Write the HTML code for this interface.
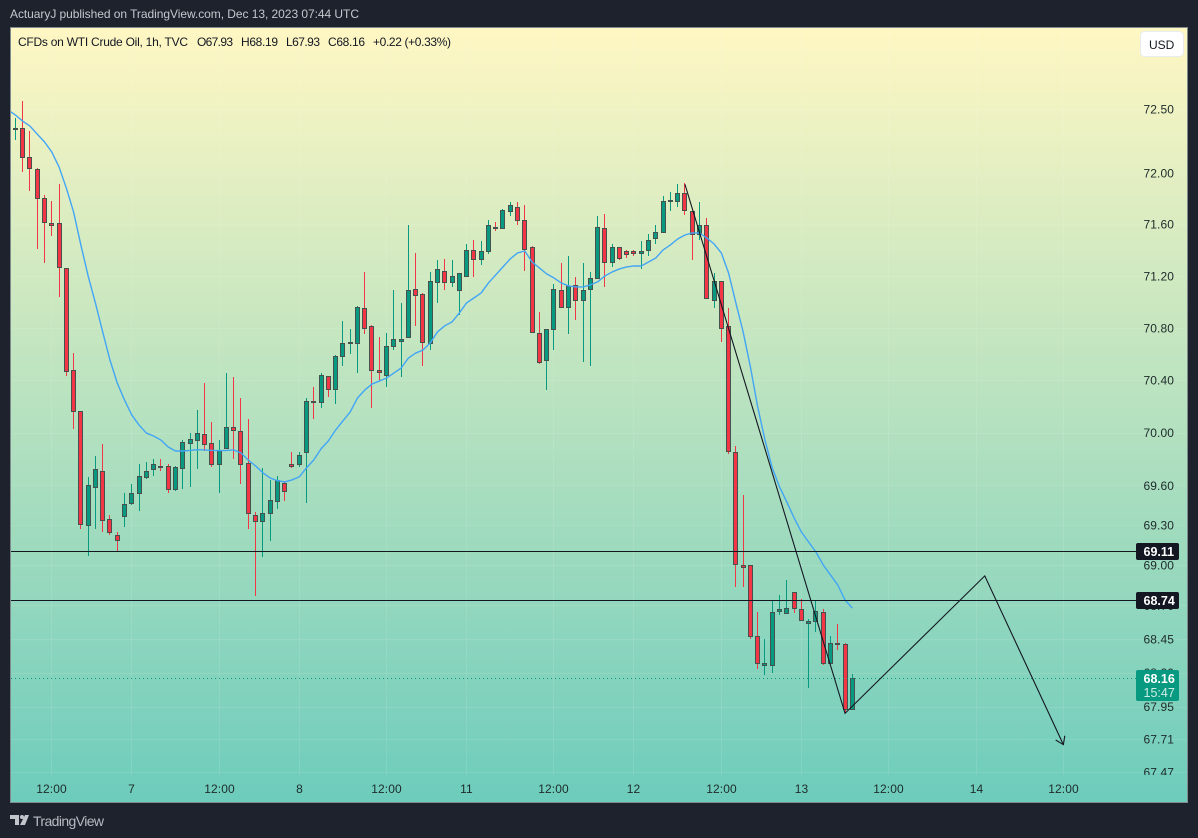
<!DOCTYPE html>
<html lang="en">
<head>
<meta charset="utf-8">
<title>CFDs on WTI Crude Oil chart</title>
<style>
html,body{margin:0;padding:0;background:#1e222d;width:1198px;height:838px;overflow:hidden}
svg{display:block}
text{font-family:"Liberation Sans",sans-serif}
</style>
</head>
<body>
<svg id="root" xmlns="http://www.w3.org/2000/svg" width="1198" height="838" viewBox="0 0 1198 838">
  <defs>
    <linearGradient id="bg" x1="0" y1="0" x2="0" y2="1">
      <stop offset="0" stop-color="#fff7c3"/>
      <stop offset="1" stop-color="#6dccbc"/>
    </linearGradient>
    <clipPath id="plotClip"><rect x="11" y="28" width="1176" height="747"/></clipPath>
  </defs>
  <rect x="0" y="0" width="1198" height="838" fill="#1e222d"/>
  <text x="10" y="18" font-size="12" fill="#c4c7cd" textLength="349" lengthAdjust="spacing">ActuaryJ published on TradingView.com, Dec 13, 2023 07:44 UTC</text>
  <rect x="10.5" y="27.5" width="1177" height="775" fill="url(#bg)" stroke="#7f8b8c" stroke-width="1"/>
  <g id="grid"></g>
  <g id="plot" clip-path="url(#plotClip)"></g>
  <g id="axes"></g>
  <g font-size="12" fill="#131722">
    <text x="18" y="46" textLength="170" lengthAdjust="spacing">CFDs on WTI Crude Oil, 1h, TVC</text>
    <text x="197" y="46" textLength="36" lengthAdjust="spacing">O67.93</text>
    <text x="241" y="46" textLength="37" lengthAdjust="spacing">H68.19</text>
    <text x="286" y="46" textLength="34" lengthAdjust="spacing">L67.93</text>
    <text x="328" y="46" textLength="37" lengthAdjust="spacing">C68.16</text>
    <text x="373" y="46" textLength="78" lengthAdjust="spacing">+0.22 (+0.33%)</text>
  </g>
  <g>
    <rect x="1140.5" y="31.5" width="43" height="25" rx="4" fill="#ffffff" stroke="#e8ecec"/>
    <text x="1149" y="49" font-size="12" fill="#131722">USD</text>
  </g>
  <g fill="#c2c5cb">
    <path d="M10 815h9v10h-4v-6h-5z"/>
    <circle cx="22" cy="817" r="2"/>
    <path d="M25 815h4l-4 10h-5z"/>
    <text x="33" y="826" font-size="14" fill="#b8bbc2" textLength="71" lengthAdjust="spacing">TradingView</text>
  </g>
</svg>
<script>
// ---- Chart data ----
const opens = [
72.34,72.35,72.12,72.03,71.80,71.61,71.61,71.26,70.48,70.16,
69.30,69.59,69.71,69.35,69.23,69.37,69.47,69.54,69.66,69.72,
69.75,69.75,69.57,69.73,69.92,69.94,69.99,69.92,69.76,69.88,
70.04,70.01,69.77,69.38,69.33,69.39,69.48,69.62,69.76,69.76,
69.85,70.24,70.23,70.43,70.33,70.58,70.68,70.68,70.95,70.81,
70.48,70.44,70.66,70.70,70.73,71.10,71.06,70.68,71.15,71.24,
71.15,71.09,71.20,71.40,71.33,71.39,71.58,71.57,71.70,71.73,
71.63,71.42,70.76,70.55,70.79,71.09,70.96,71.13,71.01,71.10,
71.18,71.57,71.31,71.42,71.39,71.39,71.38,71.40,71.49,71.54,
71.78,71.78,71.84,71.70,71.52,71.59,71.01,71.16,70.81,69.85,
69.00,69.00,68.47,68.26,68.26,68.66,68.64,68.80,68.67,68.57,
68.58,68.65,68.27,68.42,68.41,67.93];
const closes = [
72.35,72.12,72.04,71.80,71.62,71.59,71.27,70.47,70.16,69.31,
69.60,69.72,69.34,69.25,69.19,69.46,69.54,69.67,69.71,69.76,
69.74,69.57,69.74,69.93,69.95,70.00,69.91,69.76,69.87,70.04,
70.02,69.76,69.39,69.33,69.39,69.49,69.64,69.56,69.75,69.83,
70.24,70.23,70.44,70.33,70.58,70.68,70.69,70.96,70.80,70.48,
70.46,70.66,70.71,70.71,71.09,71.05,70.69,71.16,71.25,71.15,
71.20,71.22,71.40,71.33,71.39,71.59,71.57,71.71,71.75,71.63,
71.41,70.77,70.54,70.79,71.10,70.96,71.12,71.01,71.09,71.18,
71.58,71.31,71.42,71.34,71.37,71.38,71.39,71.48,71.54,71.78,
71.79,71.84,71.71,71.52,71.59,71.03,71.16,70.80,69.86,69.01,
68.99,68.47,68.27,68.27,68.65,68.67,68.68,68.68,68.59,68.58,
68.66,68.27,68.42,68.41,67.93,68.16];
const highs = [
72.43,72.56,72.33,72.04,71.83,71.78,71.91,71.26,70.61,70.16,
69.66,69.82,69.91,69.38,69.25,69.54,69.61,69.76,69.78,69.80,
69.80,69.76,69.75,69.94,70.00,70.17,70.38,70.08,69.94,70.45,
70.42,70.26,70.10,69.40,69.73,69.64,69.67,69.63,69.85,69.85,
70.26,70.35,70.45,70.43,70.59,70.85,70.79,70.97,71.23,70.82,
70.73,70.76,71.09,70.99,71.59,71.38,71.07,71.23,71.32,71.33,
71.32,71.22,71.45,71.48,71.47,71.63,71.62,71.72,71.77,71.77,
71.75,71.43,70.92,70.79,71.14,71.30,71.35,71.19,71.30,71.23,
71.66,71.68,71.45,71.42,71.40,71.40,71.47,71.52,71.59,71.82,
71.85,71.91,71.92,71.70,71.77,71.65,71.22,71.16,70.95,69.90,
69.53,69.00,68.65,68.45,68.74,68.78,68.89,68.80,68.75,68.60,
68.73,68.67,68.47,68.56,68.42,68.19];
const lows = [
72.26,72.01,71.86,71.41,71.30,71.51,71.04,70.43,70.03,69.27,
69.07,69.27,69.25,69.23,69.10,69.29,69.45,69.41,69.65,69.67,
69.71,69.54,69.56,69.57,69.59,69.72,69.86,69.74,69.54,69.88,
69.80,69.61,69.27,68.77,69.06,69.18,69.42,69.48,69.73,69.74,
69.47,70.10,70.19,70.27,70.22,70.51,70.60,70.45,70.75,70.19,
70.39,70.35,70.63,70.42,70.73,70.81,70.51,70.63,70.99,71.09,
71.11,70.90,71.20,71.19,71.28,71.37,71.55,71.57,71.66,71.59,
71.24,70.77,70.52,70.32,70.63,70.96,70.75,70.86,70.54,70.51,
71.18,71.11,71.27,71.32,71.34,71.35,71.25,71.35,71.45,71.54,
71.70,71.73,71.67,71.32,71.48,71.03,70.95,70.69,69.84,68.84,
68.84,68.45,68.23,68.18,68.20,68.63,68.64,68.64,68.58,68.09,
68.50,68.26,68.27,68.37,67.90,67.93];
// moving average, first entry belongs to the bar just left of the first candle
const maValues = [
72.492,72.453,72.405,72.366,72.303,72.242,72.163,72.046,71.882,71.695,
71.439,71.199,70.991,70.768,70.553,70.377,70.247,70.133,70.057,69.996,
69.974,69.943,69.890,69.860,69.860,69.864,69.870,69.868,69.864,69.863,
69.864,69.868,69.845,69.792,69.747,69.696,69.656,69.636,69.626,69.641,
69.664,69.732,69.792,69.876,69.936,70.019,70.088,70.156,70.262,70.323,
70.369,70.392,70.415,70.453,70.491,70.568,70.606,70.629,70.683,70.768,
70.815,70.845,70.914,70.991,71.029,71.068,71.145,71.207,71.269,71.331,
71.377,71.392,71.307,71.261,71.215,71.184,71.145,71.122,71.114,71.114,
71.130,71.153,71.199,71.230,71.253,71.269,71.276,71.276,71.307,71.338,
71.400,71.439,71.485,71.516,71.532,71.532,71.493,71.447,71.377,71.222,
70.991,70.768,70.499,70.194,69.943,69.732,69.588,69.475,69.355,69.249,
69.174,69.099,69.002,68.927,68.852,68.740,68.680];
const priceTicks = ["72.50","72.00","71.60","71.20","70.80","70.40","70.00","69.60","69.30","69.00","68.70","68.45","68.20","67.95","67.71","67.47"];
const timeTickLabels = ["12:00","7","12:00","8","12:00","11","12:00","12","12:00","13","12:00","14","12:00"];
const timeTickBars = [5,16,28,39,51,62,74,85,97,108,120,132,144];
const horizontalLevels = ["69.11","68.74"];
const lastPrice = "68.16";
const countdown = "15:47";
const drawingBars = [92,114,133.2,144];
const drawingPrices = [71.91,67.90,68.92,67.67];

// ---- Axis functions ----
const NS = 'http://www.w3.org/2000/svg';
function barX(i){ return 15.35 + 7.278*i; }
function yOf(p){ return 109 + 9220*Math.log(72.5/p); }
function mk(tag, attrs, parent){
  const el = document.createElementNS(NS, tag);
  for (const k in attrs) el.setAttribute(k, attrs[k]);
  parent.appendChild(el);
  return el;
}
const grid = document.getElementById('grid');
const plot = document.getElementById('plot');
const axes = document.getElementById('axes');
const RED = '#f23645', GREEN = '#089981', EDGE = '#46524e';
const AXIS_RIGHT = 1136;

// grid lines and tick labels
priceTicks.forEach(function(t){
  const y = Math.round(yOf(+t)) + 0.5;
  const gl = mk('line', {x1:11, x2:1187, y1:y, y2:y, stroke:'rgba(255,255,255,0.10)'}, grid);
  
  
  if (y < 775) {
    const lab = mk('text', {x:1143.5, y:yOf(+t)+4.5, 'font-size':12, 'letter-spacing':0.1, fill:'#1d2a2a'}, axes);
    
    
    lab.setAttribute('clip-path', 'url(#plotClip)');
    lab.textContent = t;
  }
});
timeTickBars.forEach(function(b, k){
  const x = Math.floor(barX(b)) + 0.5;
  const gl = mk('line', {x1:x, x2:x, y1:28, y2:775, stroke:'rgba(255,255,255,0.10)'}, grid);
  
  
  const lab = mk('text', {x:x, y:793, 'font-size':12, 'letter-spacing':0.1, fill:'#1d2a2a', 'text-anchor':'middle'}, axes);
  
  
  lab.textContent = timeTickLabels[k];
});

// candles
opens.forEach(function(o, i){
  const c = closes[i];
  const up = c >= o;
  const col = up ? GREEN : RED;
  const cx = Math.floor(barX(i));
  const wickTop = Math.round(yOf(highs[i]));
  const wickBot = Math.round(yOf(lows[i]));
  const wick = mk('rect', {x:cx, y:wickTop, width:1, height:Math.max(1, wickBot-wickTop), fill:col}, plot);
  
  
  const top = Math.round(yOf(Math.max(o,c)));
  const bot = Math.round(yOf(Math.min(o,c)));
  const h = Math.max(1, bot-top);
  const body = mk('rect', {x:cx-2+0.5, y:top+0.5, width:4, height:h, fill:col, stroke:EDGE, 'stroke-width':1}, plot);
  
  
});

// moving average
const maPts = maValues.map(function(v, k){ return barX(k-1).toFixed(2)+','+yOf(v).toFixed(2); }).join(' ');
const ma = mk('polyline', {points:maPts, fill:'none', stroke:'#42a5f5', 'stroke-width':1.4, 'stroke-linejoin':'round'}, plot);



// last price dotted line
const lpY = Math.round(yOf(+lastPrice)) + 0.5;
const lp = mk('line', {x1:11, x2:AXIS_RIGHT, y1:lpY, y2:lpY, stroke:GREEN, 'stroke-dasharray':'1 3'}, plot);



// horizontal levels
horizontalLevels.forEach(function(t){
  const y = Math.round(yOf(+t)) + 0.5;
  const hl = mk('line', {x1:11, x2:AXIS_RIGHT, y1:y, y2:y, stroke:'#131722', 'stroke-width':1}, plot);
  
  
  const box = mk('rect', {x:AXIS_RIGHT, y:y-8.5, width:43, height:17, rx:2, fill:'#131722'}, axes);
  
  
  const txt = mk('text', {x:1143.5, y:y+4.5, 'font-size':12.5, 'font-weight':'bold', fill:'#ffffff'}, axes);
  
  
  txt.textContent = t;
});

// last price tag
const tagTop = Math.round(yOf(+lastPrice)) - 8;
const tag = mk('rect', {x:AXIS_RIGHT, y:tagTop, width:43, height:31, rx:2, fill:GREEN}, axes);


const tagText = mk('text', {x:1143.5, y:tagTop+13, 'font-size':12.5, 'font-weight':'bold', fill:'#ffffff'}, axes);


tagText.textContent = lastPrice;
const cdText = mk('text', {x:1143.5, y:tagTop+27, 'font-size':12.5, fill:'#cfeee6'}, axes);


cdText.textContent = countdown;

// hand-drawn path with arrow
const dPts = drawingBars.map(function(b, k){ return [barX(b), yOf(drawingPrices[k])]; });
const path = mk('polyline', {points:dPts.map(function(p){return p[0].toFixed(2)+','+p[1].toFixed(2);}).join(' '), fill:'none', stroke:'#131722', 'stroke-width':1.1}, plot);


const tip = dPts[dPts.length-1], prev = dPts[dPts.length-2];
const ang = Math.atan2(tip[1]-prev[1], tip[0]-prev[0]);
const head = [ang+2.55, ang-2.55].map(function(a){ return [tip[0]+9*Math.cos(a), tip[1]+9*Math.sin(a)]; });
const arrow = mk('polyline', {points:head[0][0].toFixed(2)+','+head[0][1].toFixed(2)+' '+tip[0].toFixed(2)+','+tip[1].toFixed(2)+' '+head[1][0].toFixed(2)+','+head[1][1].toFixed(2), fill:'none', stroke:'#131722', 'stroke-width':1.1}, plot);


</script>
</body>
</html>
